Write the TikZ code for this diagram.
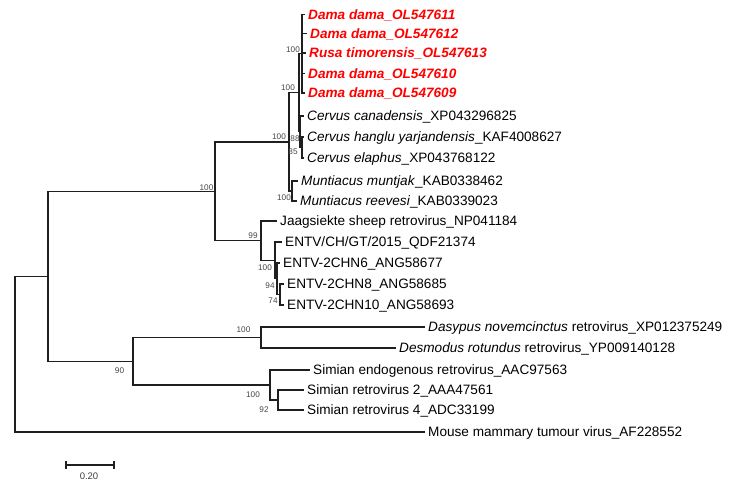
\documentclass[tikz,border=0pt]{standalone}
\usepackage{fontspec}
\setmainfont{Liberation Sans}
\begin{document}
\begin{tikzpicture}[x=1pt,y=-1pt,
  br/.style={line width=1.2pt, draw=black!88},
  leaf/.style={anchor=west, inner xsep=3pt, inner ysep=0pt, text height=9.7pt, text depth=0pt, font=\fontsize{13.6}{16}\selectfont},
  redleaf/.style={leaf, text=red, font=\fontsize{13.6}{16}\selectfont\bfseries\itshape},
  boot/.style={inner sep=0pt, font=\fontsize{8.2}{9}\selectfont, text=black!72},
  scalelab/.style={inner sep=0pt, font=\fontsize{9.5}{11}\selectfont, text=black!75},
]
\useasboundingbox (0,0) rectangle (733,487);

% internal nodes
\coordinate (R) at (15,354.1);
\coordinate (A) at (48,276.3);
\coordinate (B) at (215,191.3);
\coordinate (C) at (289,141.9);
\coordinate (D) at (299,92.75);
\coordinate (E) at (302,53.75);
\coordinate (F) at (300,131.75);
\coordinate (G) at (302,147.5);
\coordinate (H) at (292,191);
\coordinate (I) at (261,240.7);
\coordinate (J) at (275,260.4);
\coordinate (K) at (277,278.75);
\coordinate (L) at (280,294.5);
\coordinate (M) at (133,361.25);
\coordinate (N) at (261,337.5);
\coordinate (O) at (270,385);
\coordinate (P) at (278,400);

% leaves
\node[redleaf] (l1) at (305,14.5) {Dama dama\_OL547611};
\node[redleaf] (l2) at (307,33.5) {Dama dama\_OL547612};
\node[redleaf] (l3) at (306,53) {Rusa timorensis\_OL547613};
\node[redleaf] (l4) at (305,73.5) {Dama dama\_OL547610};
\node[redleaf] (l5) at (305,93) {Dama dama\_OL547609};
\node[leaf] (l6) at (304,116) {\textit{Cervus canadensis}\_XP043296825};
\node[leaf] (l7) at (304,137) {\textit{Cervus hanglu yarjandensis}\_KAF4008627};
\node[leaf] (l8) at (304,158) {\textit{Cervus elaphus}\_XP043768122};
\node[leaf] (l9) at (298,181) {\textit{Muntiacus muntjak}\_KAB0338462};
\node[leaf] (l10) at (297,201) {\textit{Muntiacus reevesi}\_KAB0339023};
\node[leaf] (l11) at (277,221) {Jaagsiekte sheep retrovirus\_NP041184};
\node[leaf] (l12) at (282,242) {ENTV/CH/GT/2015\_QDF21374};
\node[leaf] (l13) at (280,263) {ENTV-2CHN6\_ANG58677};
\node[leaf] (l14) at (284,284) {ENTV-2CHN8\_ANG58685};
\node[leaf] (l15) at (284,305) {ENTV-2CHN10\_ANG58693};
\node[leaf] (l16) at (425,327) {\textit{Dasypus novemcinctus} retrovirus\_XP012375249};
\node[leaf] (l17) at (396,348) {\textit{Desmodus rotundus} retrovirus\_YP009140128};
\node[leaf] (l18) at (310,370) {Simian endogenous retrovirus\_AAC97563};
\node[leaf] (l19) at (304,390) {Simian retrovirus 2\_AAA47561};
\node[leaf] (l20) at (304,410) {Simian retrovirus 4\_ADC33199};
\node[leaf] (l21) at (425,432) {Mouse mammary tumour virus\_AF228552};

% branches
\draw[br] (R) |- (A);
\draw[br] (R) |- (l21.west);
\draw[br] (A) |- (B);
\draw[br] (A) |- (M);
\draw[br] (B) |- (C);
\draw[br] (B) |- (I);
\draw[br] (C) |- (D);
\draw[br] (C) |- (H);
\draw[br] (D) |- (E);
\draw[br] (D) |- (F);
\foreach \n in {l1,l2,l3,l4,l5} \draw[br] (E) |- (\n.west);
\draw[br] (F) |- (l6.west);
\draw[br] (F) |- (G);
\draw[br] (G) |- (l7.west);
\draw[br] (G) |- (l8.west);
\draw[br] (H) |- (l9.west);
\draw[br] (H) |- (l10.west);
\draw[br] (I) |- (l11.west);
\draw[br] (I) |- (J);
\draw[br] (J) |- (l12.west);
\draw[br] (J) |- (K);
\draw[br] (K) |- (l13.west);
\draw[br] (K) |- (L);
\draw[br] (L) |- (l14.west);
\draw[br] (L) |- (l15.west);
\draw[br] (M) |- (N);
\draw[br] (M) |- (O);
\draw[br] (N) |- (l16.west);
\draw[br] (N) |- (l17.west);
\draw[br] (O) |- (l18.west);
\draw[br] (O) |- (P);
\draw[br] (P) |- (l19.west);
\draw[br] (P) |- (l20.west);

% bootstrap values
\node[boot] (bE) at (293,49.5) {100};
\node[boot] (bD) at (288,87.5) {100};
\node[boot] (bC) at (279,137) {100};
\node[boot] (bF) at (295,138.5) {88};
\node[boot] (bG) at (293,152) {85};
\node[boot] (bH) at (284,197.5) {100};
\node[boot] (bB) at (206.5,187.5) {100};
\node[boot] (bI) at (253,235.5) {99};
\node[boot] (bJ) at (265,268) {100};
\node[boot] (bK) at (270,285.5) {94};
\node[boot] (bL) at (273,301) {74};
\node[boot] (bN) at (243.5,329.5) {100};
\node[boot] (bM) at (119.5,370.5) {90};
\node[boot] (bO) at (253,394.5) {100};
\node[boot] (bP) at (264,409.5) {92};

% scale bar
\coordinate (s1) at (66,465);
\coordinate (s2) at (114,465);
\draw[br] (s1) -- (s2);
\draw[br] ([yshift=4pt]s1) -- ([yshift=-4pt]s1);
\draw[br] ([yshift=4pt]s2) -- ([yshift=-4pt]s2);
\node[scalelab] (sc) at (89,476) {0.20};
\end{tikzpicture}
\end{document}
